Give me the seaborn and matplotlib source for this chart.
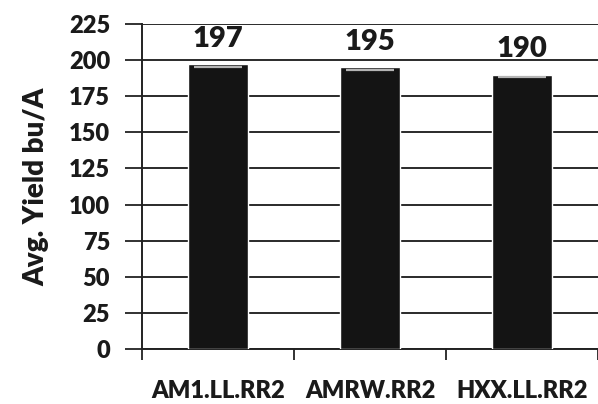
import numpy as np
import pandas as pd
import matplotlib
matplotlib.use("Agg")
import matplotlib.pyplot as plt
import seaborn as sns

# data
hybrids = ["AM1.LL.RR2", "AMRW.RR2", "HXX.LL.RR2"]
avg_yield = [197, 195, 190]
y_ticks = [0, 25, 50, 75, 100, 125, 150, 175, 200, 225]

df = pd.DataFrame({"Hybrid": hybrids, "Yield": avg_yield})

sns.set_theme(style="white")
plt.rcParams["font.family"] = ["Lato", "DejaVu Sans"]

fig = plt.figure(figsize=(5.98, 4.04), dpi=100)
ax = fig.add_axes([0.2375, 0.1361, 0.7625, 0.8045])

sns.barplot(data=df, x="Hybrid", y="Yield", color="#141414", width=0.4,
            saturation=1, ax=ax, zorder=3)

# value labels on top of bars + faint highlight at the bar top
for cont in ax.containers:
    ax.bar_label(cont, fmt="%d", padding=9, fontsize=21, fontweight="heavy",
                 color="#1a1a1a")
    for p in cont.patches:
        x0, w, h = p.get_x(), p.get_width(), p.get_height()
        ax.hlines(h - 2, x0 + 0.1 * w, x0 + 0.9 * w, color="#b5b5b5",
                  linewidth=1.6, zorder=4)

ax.set_ylim(0, 225)
ax.set_xlim(-0.5, 2.5)
ax.set_yticks(y_ticks)
ax.yaxis.grid(True, color="#2a2a2a", linewidth=1.4, zorder=0)
ax.set_axisbelow(True)

# Excel style category ticks between bars
ax.set_xticks([-0.5, 0.5, 1.5, 2.5], minor=True)
ax.tick_params(axis="x", which="minor", length=8, width=1.3, color="#222222",
               direction="out", bottom=True)
ax.tick_params(axis="x", which="major", length=0, pad=22, labelsize=17)
ax.tick_params(axis="y", length=12, width=1.3, color="#222222", direction="out",
               left=True, pad=11, labelsize=17)
for lab in ax.get_xticklabels() + ax.get_yticklabels():
    lab.set_fontweight("heavy")
    lab.set_color("#1a1a1a")

ax.set_xlabel("")
ax.set_ylabel("Avg. Yield bu/A", fontsize=20, fontweight="heavy", color="#1a1a1a",
              labelpad=14)

for side in ["top", "right"]:
    ax.spines[side].set_visible(False)
ax.spines["left"].set_color("#222222")
ax.spines["left"].set_linewidth(1.4)
ax.spines["bottom"].set_color("#222222")
ax.spines["bottom"].set_linewidth(1.4)

fig.savefig("out.png", dpi=100)
